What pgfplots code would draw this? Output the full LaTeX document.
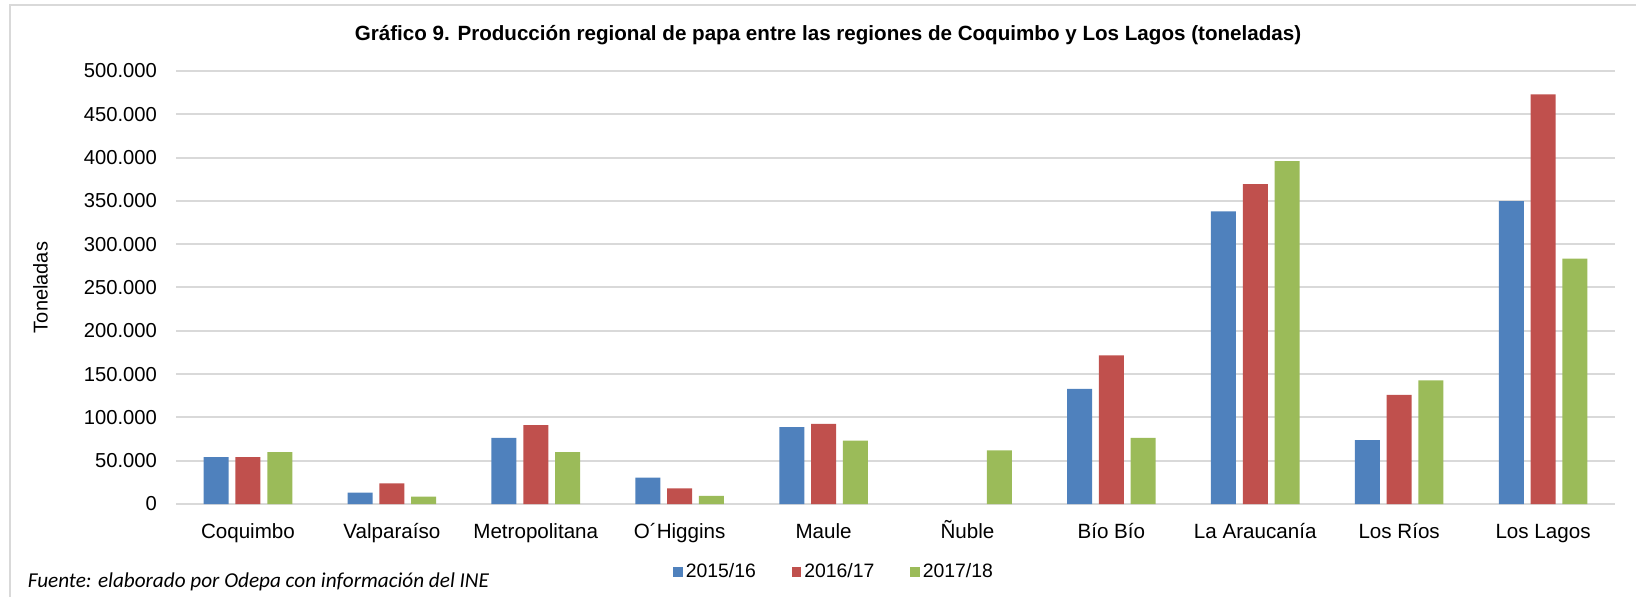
\documentclass[border=0pt]{standalone}
\usepackage{fontspec}
\setmainfont{Liberation Sans}
\newfontfamily\calibri{Carlito}
\usepackage{pgfplots}
\pgfplotsset{compat=1.18}
\definecolor{cblue}{HTML}{4F81BD}
\definecolor{cred}{HTML}{C0504D}
\definecolor{cgreen}{HTML}{9BBB59}
\definecolor{gridgray}{HTML}{D9D9D9}
\begin{document}
\begin{tikzpicture}
\useasboundingbox (0,0) rectangle (818pt,-298.5pt);
\draw[gridgray, line width=1pt] (5pt,-298.5pt) -- (5pt,-2.75pt) -- (818pt,-2.75pt);
\node[anchor=base, inner sep=0pt, font=\bfseries\fontsize{10.3}{12}\selectfont] at (414pt,-20.5pt) {Gráfico 9. Producción regional de papa entre las regiones de Coquimbo y Los Lagos (toneladas)};
\node[anchor=base west, inner sep=0pt, font=\calibri\itshape\fontsize{10.6}{12}\selectfont] at (13.7pt,-293.7pt) {Fuente: elaborado por Odepa con información del INE};
\begin{axis}[
  at={(88pt,-252pt)}, anchor=south west,
  scale only axis, width=719.5pt, height=216.5pt,
  ybar=3.4pt, bar width=12.5pt,
  xmin=-0.5, xmax=9.5,
  ymin=0, ymax=500000,
  ytick={0,50000,...,500000},
  xtick={0,...,9},
  xticklabels={Coquimbo,Valparaíso,Metropolitana,O´Higgins,Maule,Ñuble,Bío Bío,La Araucanía,Los Ríos,Los Lagos},
  scaled y ticks=false,
  /pgf/number format/.cd, fixed, 1000 sep={.}, assume math mode=true,
  /pgfplots/.cd,
  ymajorgrids, grid style={gridgray, line width=1pt},
  axis x line*=bottom, axis y line*=left,
  x axis line style={gridgray, line width=1.2pt},
  y axis line style={draw=none},
  major tick length=0pt,
  tick label style={font=\fontsize{10.1}{12}\selectfont, black},
  yticklabel style={xshift=-6pt},
  xticklabel style={font=\fontsize{10.3}{12}\selectfont, text height=7.3pt, text depth=2pt, yshift=-6.2pt},
  ylabel={Toneladas},
  ylabel style={font=\fontsize{10}{12}\selectfont},
  every axis y label/.style={at={(axis description cs:-0.0941,0.5)}, rotate=90, anchor=center},
  legend columns=3,
  legend style={at={(axis description cs:0.4577,-0.157)}, anchor=center, draw=none, fill=none,
    font=\fontsize{9.7}{11}\selectfont,
    /tikz/every even column/.append style={column sep=16.5pt},
    nodes={inner xsep=1.5pt}},
  legend image code/.code={\fill[#1] (0pt,-2.35pt) rectangle (4.7pt,2.35pt);},
]
\addplot[fill=cblue, draw=none] coordinates {(0,54000) (1,13200) (2,76300) (3,30400) (4,88700) (6,133000) (7,338000) (8,73900) (9,349700)};
\addplot[fill=cred, draw=none] coordinates {(0,54000) (1,23700) (2,91000) (3,17900) (4,92600) (6,171600) (7,369300) (8,126000) (9,473000)};
\addplot[fill=cgreen, draw=none] coordinates {(0,60000) (1,8600) (2,60000) (3,9300) (4,73200) (5,61900) (6,76300) (7,396000) (8,142800) (9,283300)};
\legend{2015/16,2016/17,2017/18}
\end{axis}
\end{tikzpicture}
\end{document}
